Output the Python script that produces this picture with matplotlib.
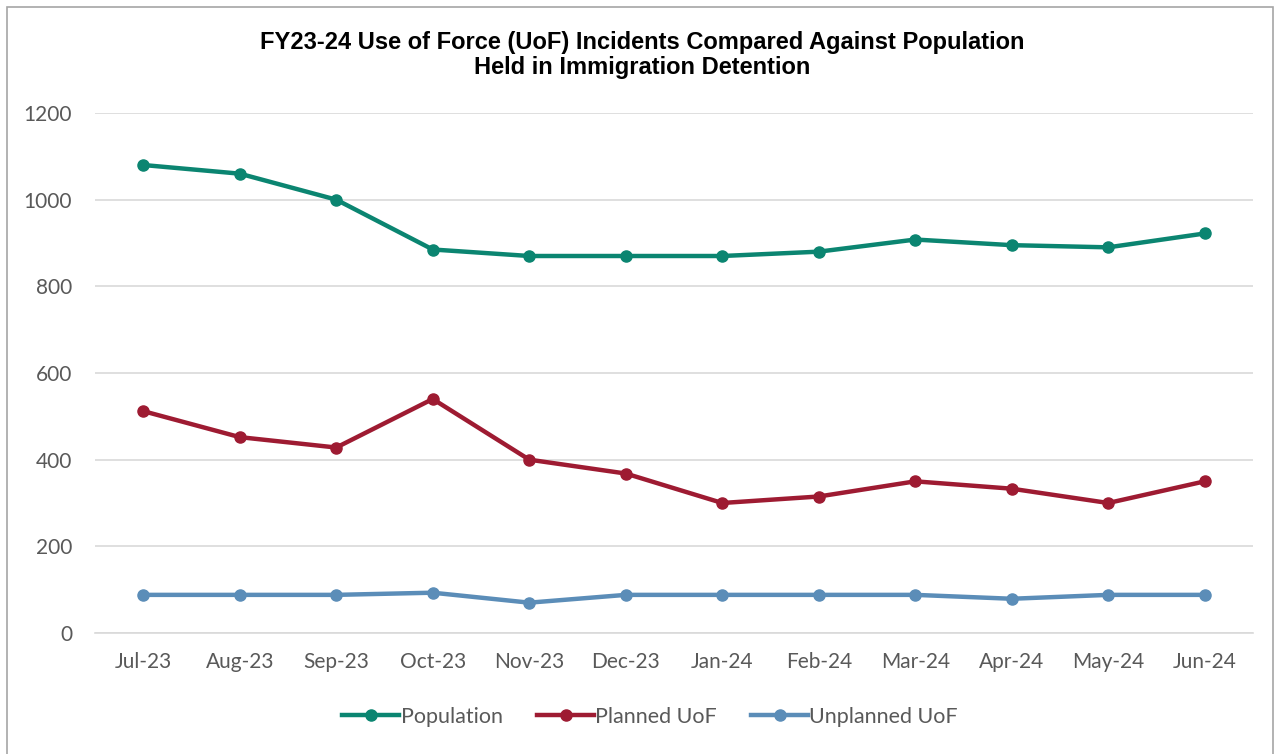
import matplotlib.pyplot as plt
from matplotlib.patches import Rectangle

months = ["Jul-23", "Aug-23", "Sep-23", "Oct-23", "Nov-23", "Dec-23",
          "Jan-24", "Feb-24", "Mar-24", "Apr-24", "May-24", "Jun-24"]
population = [1080, 1060, 1000, 885, 870, 870, 870, 880, 908, 895, 890, 922]
planned_uof = [512, 452, 428, 540, 400, 368, 300, 315, 350, 333, 300, 350]
unplanned_uof = [88, 88, 88, 93, 70, 88, 88, 88, 88, 79, 88, 88]

title = "FY23-24 Use of Force (UoF) Incidents Compared Against Population\nHeld in Immigration Detention"

teal = "#0B8571"
red = "#9E1B32"
blue = "#5B8DB8"
grey_text = "#595959"

fig = plt.figure(figsize=(12.8, 7.54), dpi=100)
fig.patches.append(Rectangle((7 / 1280, -0.01), 1266 / 1280, 1 - 7 / 754 + 0.01,
                             transform=fig.transFigure, fill=False,
                             edgecolor="#A6A6A6", linewidth=1.2))

ax = fig.add_axes([95 / 1280, 1 - 633 / 754, 1158 / 1280, 520 / 754])

x = range(len(months))
ax.plot(x, population, color=teal, lw=3.2, marker="o", ms=8, label="Population")
ax.plot(x, planned_uof, color=red, lw=3.2, marker="o", ms=8, label="Planned UoF")
ax.plot(x, unplanned_uof, color=blue, lw=3.2, marker="o", ms=8, label="Unplanned UoF")

ax.set_xlim(-0.5, len(months) - 0.5)
ax.set_ylim(0, 1200)
ax.set_yticks(range(0, 1201, 200))
ax.set_xticks(list(x))
ax.set_xticklabels(months)
ax.grid(axis="y", color="#D9D9D9", lw=1.2)
ax.set_axisbelow(True)
for s in ["left", "right", "top"]:
    ax.spines[s].set_visible(False)
ax.spines["bottom"].set_color("#D9D9D9")
ax.spines["bottom"].set_linewidth(1.2)
ax.tick_params(length=0, labelsize=15, labelcolor=grey_text)
ax.tick_params(axis="y", pad=16.5)
ax.tick_params(axis="x", pad=14)
for lab in ax.get_xticklabels() + ax.get_yticklabels():
    lab.set_family("Lato")

fig.text(0.502, 1 - 55 / 754, title, ha="center", va="center", fontsize=17,
         fontweight="bold", family=["Liberation Sans Narrow", "Liberation Sans"],
         color="#000000", linespacing=1.1)

leg = fig.legend(loc="center", bbox_to_anchor=(0.508, 1 - 717 / 754), ncol=3,
                 frameon=False, handlelength=2.65, handletextpad=0.05,
                 columnspacing=1.6, prop={"family": "Lato", "size": 15.5})
for t in leg.get_texts():
    t.set_color(grey_text)

fig.savefig("out.png", dpi=100)
